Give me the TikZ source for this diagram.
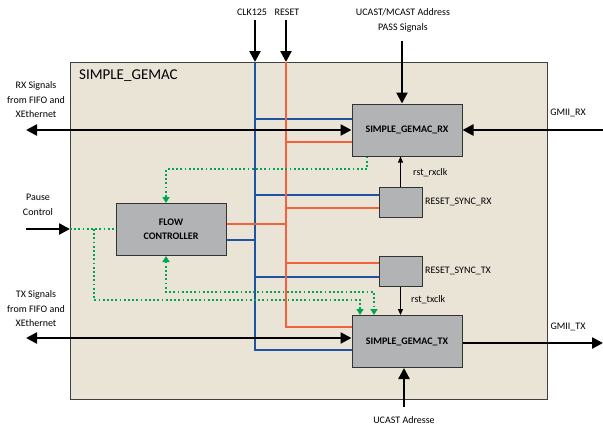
\documentclass[tikz,border=0pt]{standalone}
\usepackage{fontspec}
\setmainfont{Carlito}
\usetikzlibrary{arrows.meta, positioning, calc}
\definecolor{sand}{HTML}{EAE4D7}
\definecolor{blockgray}{HTML}{B1B3B4}
\definecolor{clkblue}{HTML}{2153A3}
\definecolor{rstred}{HTML}{F2603E}
\definecolor{ctrlgreen}{HTML}{00A551}

\begin{document}
\begin{tikzpicture}[x=1pt, y=-1pt,
    % 1. Cajas
    base/.style={draw=black!80, line width=1pt, align=center,
        font=\fontsize{10}{14}\selectfont\bfseries},
    block/.style={base, fill=blockgray, minimum width=110pt, minimum height=52pt},
    sync/.style={base, fill=blockgray, minimum width=43pt, minimum height=30pt},
    % 2. Buses de reloj y reset
    clkwire/.style={line width=1.3pt, draw=clkblue},
    rstwire/.style={line width=1.3pt, draw=rstred},
    % 3. Senales de control (punteadas)
    ctrl/.style={draw=ctrlgreen, line width=1.8pt, dash pattern=on 1.8pt off 2.4pt},
    ctrltip/.style={ctrl, -{Triangle[length=6pt, width=7pt]}},
    % 4. Flechas negras
    arrow/.style={-{Triangle[length=11pt, width=11pt]}, line width=2.4pt},
    sigarrow/.style={-{Triangle[length=6pt, width=5pt]}, line width=1pt},
    % 5. Etiquetas
    lbl/.style={font=\fontsize{10}{14.5}\selectfont, align=center, inner sep=0pt}
]
    \useasboundingbox (0,0) rectangle (603,426);

    % --- CONTENEDOR ---
    \node[draw=black!75, line width=1pt, fill=sand, minimum width=477pt, minimum height=337pt,
        inner sep=0pt] (gemac) at (308.5,230.5) {};
    \node[lbl, anchor=west, font=\fontsize{15}{18}\selectfont] (title) at (79,76) {SIMPLE\_GEMAC};

    % --- BLOQUES ---
    \node[block] (rx) at (407,130) {SIMPLE\_GEMAC\_RX};
    \node[block] (tx) at (407,341.5) {SIMPLE\_GEMAC\_TX};
    \node[block] (flow) at (171,229.5) {FLOW\\CONTROLLER};
    \node[sync] (syncrx) at (400.5,202) {};
    \node[sync] (synctx) at (400.5,271) {};
    \node[lbl, anchor=west] (syncrxlbl) at (425,202) {RESET\_SYNC\_RX};
    \node[lbl, anchor=west] (synctxlbl) at (425,271) {RESET\_SYNC\_TX};

    % --- CLK125 / RESET ---
    \coordinate (clk) at (255,62);
    \coordinate (rst) at (286,62);
    \node[lbl] (clklbl) at (252,12) {CLK125};
    \node[lbl] (rstlbl) at (287,12) {RESET};
    \draw[arrow] (clk |- 0,20) -- (clk);
    \draw[arrow] (rst |- 0,20) -- (rst);

    \draw[clkwire] (clk) |- ([yshift=-8.5pt]tx.west);
    \draw[clkwire] ([yshift=11pt]rx.west) -| (clk);
    \draw[clkwire] ([yshift=7pt]syncrx.west) -| (clk);
    \draw[clkwire] ([yshift=-6pt]synctx.west) -| (clk);
    \draw[clkwire] ([yshift=-10.5pt]flow.east) -| (clk);

    \draw[rstwire] (rst) |- ([yshift=14.5pt]tx.west);
    \draw[rstwire] ([yshift=-12pt]rx.west) -| (rst);
    \draw[rstwire] ([yshift=-6pt]syncrx.west) -| (rst);
    \draw[rstwire] ([yshift=8pt]synctx.west) -| (rst);
    \draw[rstwire] ([yshift=5.5pt]flow.east) -| (rst);

    % --- RESET SINCRONO ---
    \draw[sigarrow] (syncrx.north) -- (syncrx.north |- rx.south);
    \draw[sigarrow] (synctx.south) -- (synctx.south |- tx.north);
    \node[lbl, anchor=west] (rxclklbl) at (413,173) {rst\_rxclk};
    \node[lbl, anchor=west] (txclklbl) at (411,300) {rst\_txclk};

    % --- CONTROL DE PAUSA ---
    \coordinate (g1) at (367,169);
    \coordinate (g2) at (94,300);
    \coordinate (g3) at (166,292);
    \coordinate (pz) at (70,229);
    \draw[ctrltip] (g1 |- rx.south) -- (g1) -| ([xshift=-5pt]flow.north);
    \draw[ctrl] (pz) -- (pz -| flow.west);
    \draw[ctrltip] (g2 |- pz) -- (g2) -| ([xshift=-47pt]tx.north);
    \draw[ctrltip, {Triangle[length=6pt, width=7pt]}-{Triangle[length=6pt, width=7pt]}]
        ([xshift=-5pt]flow.south) |- (g3) -| ([xshift=-33pt]tx.north);
    \node[lbl] (pauselbl) at (38,205) {Pause\\Control};
    \draw[arrow] (pz -| 0,0) ++(26,0) coordinate (pausein) -- (pz);

    % --- LADO RX ---
    \coordinate (rxsig) at (26,130);
    \coordinate (gmiirx) at (603,130);
    \coordinate (pass) at (402,41);
    \node[lbl] (rxsiglbl) at (36,100) {RX Signals\\from FIFO and\\XEthernet};
    \node[lbl] (gmiirxlbl) at (568,113) {GMII\_RX};
    \node[lbl] (passlbl) at (403,20.5) {UCAST/MCAST Address\\PASS Signals};
    \draw[arrow, {Triangle[length=11pt, width=11pt]}-{Triangle[length=11pt, width=11pt]}] (rxsig) -- (rx.west);
    \draw[arrow] (gmiirx) -- (rx.east);
    \draw[arrow] (pass) -- (pass |- rx.north);

    % --- LADO TX ---
    \coordinate (txsig) at (26,338);
    \coordinate (gmiitx) at (603,343);
    \coordinate (ucast) at (404,407);
    \node[lbl] (txsiglbl) at (36,309) {TX Signals\\from FIFO and\\XEthernet};
    \node[lbl] (gmiitxlbl) at (568,327) {GMII\_TX};
    \node[lbl] (ucastlbl) at (404,420) {UCAST Adresse};
    \draw[arrow, {Triangle[length=11pt, width=11pt]}-{Triangle[length=11pt, width=11pt]}] (txsig) -- (txsig -| tx.west);
    \draw[arrow] (gmiitx -| tx.east) -- (gmiitx);
    \draw[arrow] (ucast) -- (ucast |- tx.south);

\end{tikzpicture}
\end{document}
